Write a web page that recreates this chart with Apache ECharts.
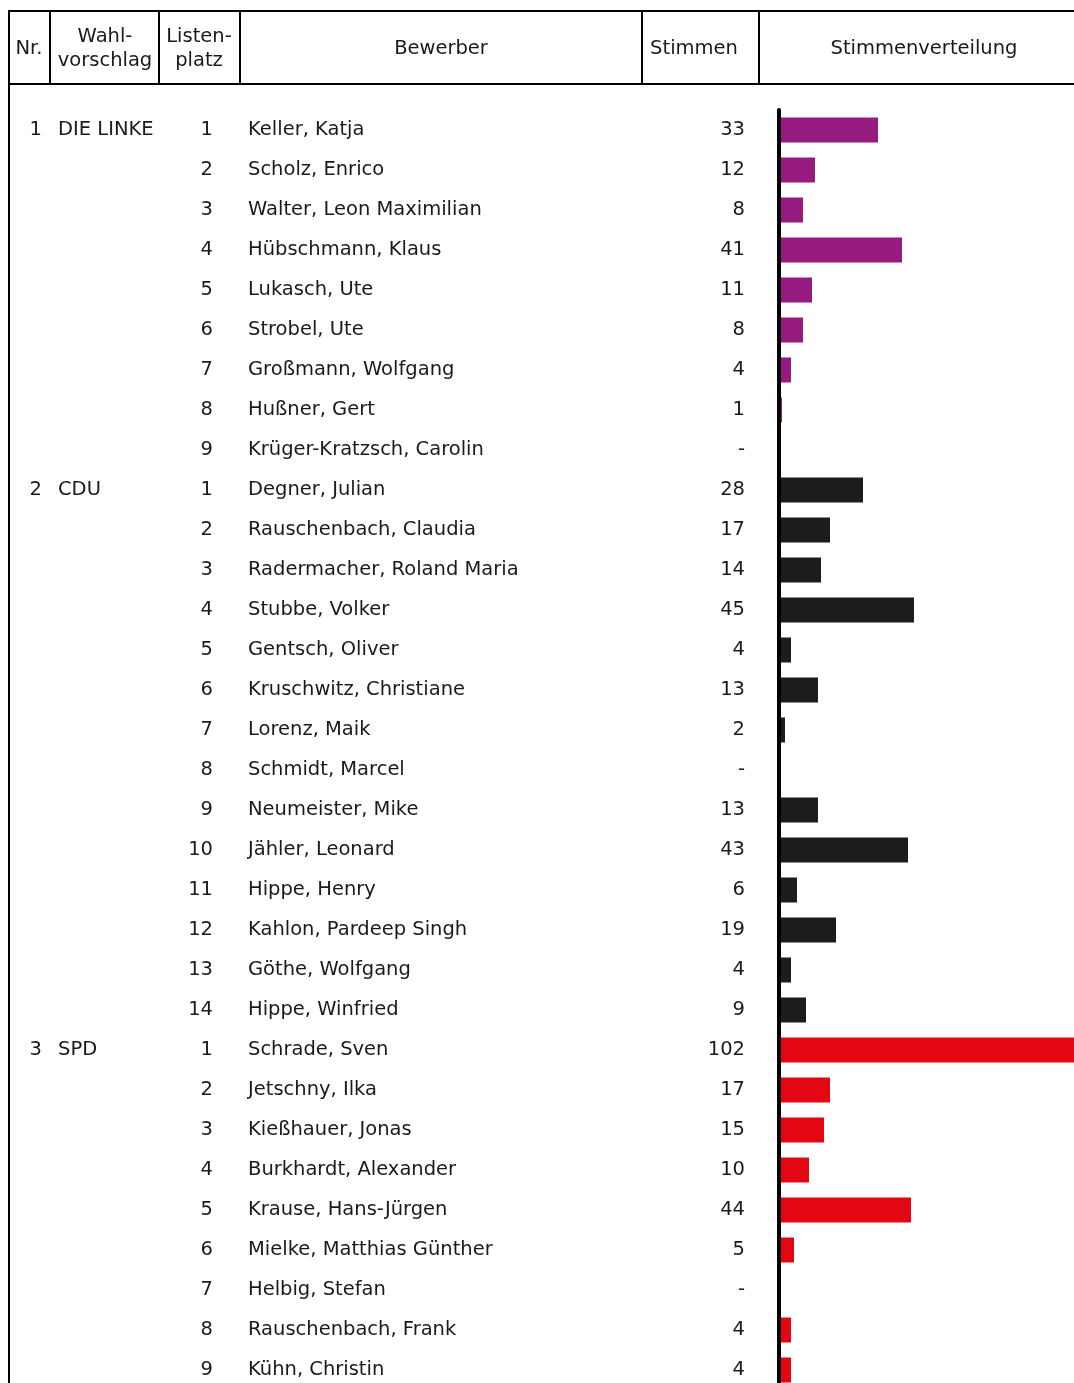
<!DOCTYPE html>
<html>
<head>
<meta charset="utf-8">
<script src="https://cdn.jsdelivr.net/npm/echarts@6/dist/echarts.min.js"></script>
<style>
html,body{margin:0;padding:0;background:#fff;overflow:hidden;}
#chart{width:1074px;height:1390px;}
</style>
</head>
<body>
<div id="chart"></div>
<script>
// ---- data ----
const partyNr = ['1', '2', '3'];
const partyLabels = ['DIE LINKE', 'CDU', 'SPD'];
const partyColors = ['#951B81', '#1C1C1C', '#E30613'];

const linkeNames = ['Keller, Katja', 'Scholz, Enrico', 'Walter, Leon Maximilian', 'Hübschmann, Klaus', 'Lukasch, Ute', 'Strobel, Ute', 'Großmann, Wolfgang', 'Hußner, Gert', 'Krüger-Kratzsch, Carolin'];
const linkeVotes = [33, 12, 8, 41, 11, 8, 4, 1, null];

const cduNames = ['Degner, Julian', 'Rauschenbach, Claudia', 'Radermacher, Roland Maria', 'Stubbe, Volker', 'Gentsch, Oliver', 'Kruschwitz, Christiane', 'Lorenz, Maik', 'Schmidt, Marcel', 'Neumeister, Mike', 'Jähler, Leonard', 'Hippe, Henry', 'Kahlon, Pardeep Singh', 'Göthe, Wolfgang', 'Hippe, Winfried'];
const cduVotes = [28, 17, 14, 45, 4, 13, 2, null, 13, 43, 6, 19, 4, 9];

const spdNames = ['Schrade, Sven', 'Jetschny, Ilka', 'Kießhauer, Jonas', 'Burkhardt, Alexander', 'Krause, Hans-Jürgen', 'Mielke, Matthias Günther', 'Helbig, Stefan', 'Rauschenbach, Frank', 'Kühn, Christin'];
const spdVotes = [102, 17, 15, 10, 44, 5, null, 4, 4];

const headerLabels = ['Nr.', 'Wahl-\nvorschlag', 'Listen-\nplatz', 'Bewerber', 'Stimmen', 'Stimmenverteilung'];

// ---- build rows ----
const groupNames = [linkeNames, cduNames, spdNames];
const groupVotes = [linkeVotes, cduVotes, spdVotes];
const rowIds = [], colNr = [], colParty = [], colPlatz = [], colName = [], colVotes = [], barData = [];
groupNames.forEach((names, p) => {
  names.forEach((n, i) => {
    const id = 'r' + rowIds.length;
    rowIds.push(id);
    colNr.push(i === 0 ? partyNr[p] : '');
    colParty.push(i === 0 ? partyLabels[p] : '');
    colPlatz.push(String(i + 1));
    colName.push(n);
    const v = groupVotes[p][i];
    colVotes.push(v == null ? '-' : String(v));
    barData.push({ value: v == null ? 0 : v, itemStyle: { color: partyColors[p] } });
  });
});

const FONT = 'DejaVu Sans';
const FS = 19.5;
const TXT = '#1a1a1a';
const GRID_LEFT = 779;

function textAxis(data, margin, align) {
  return {
    type: 'category', data: data, inverse: true, position: 'left', gridIndex: 0,
    axisLine: { show: false }, axisTick: { show: false }, splitLine: { show: false },
    axisLabel: { show: true, interval: 0, margin: margin, align: align, fontFamily: FONT, fontSize: FS, color: TXT, hideOverlap: false }
  };
}

const chart = echarts.init(document.getElementById('chart'), null, { renderer: 'canvas' });

const lines = [];
const L = (x1, y1, x2, y2) => lines.push({ type: 'line', shape: { x1, y1, x2, y2 }, style: { stroke: '#000', lineWidth: 2 }, silent: true });
L(8, 11, 1074, 11);
L(8, 84, 1074, 84);
L(9, 10, 9, 1390);
[50, 159, 240, 642, 759].forEach(x => L(x, 11, x, 84));

const headerX = [29, 105, 199, 441, 694, 924];
const headerTexts = headerLabels.map((t, i) => ({
  type: 'text', x: headerX[i], y: 49, silent: true,
  style: { text: t, fontFamily: FONT, fontSize: FS, fill: TXT, align: 'center', verticalAlign: 'middle', lineHeight: 24 }
}));

chart.setOption({
  animation: false,
  backgroundColor: '#fff',
  grid: { left: GRID_LEFT, top: 110, width: 1074 - GRID_LEFT, height: 1280, containLabel: false },
  xAxis: { type: 'value', min: 0, max: (1074 - GRID_LEFT) / 3, show: false, splitLine: { show: false } },
  yAxis: [
    {
      type: 'category', data: rowIds, inverse: true, position: 'left', z: 5,
      axisLine: { show: true, lineStyle: { color: '#000', width: 4 } },
      axisTick: { show: false }, splitLine: { show: false },
      axisLabel: { show: true, interval: 0, margin: 34, align: 'right', fontFamily: FONT, fontSize: FS, color: TXT,
        formatter: (v, idx) => colVotes[idx] }
    },
    textAxis(colName, GRID_LEFT - 248, 'left'),
    textAxis(colPlatz, GRID_LEFT - 213, 'right'),
    textAxis(colParty, GRID_LEFT - 58, 'left'),
    textAxis(colNr, GRID_LEFT - 42, 'right')
  ],
  series: [{
    type: 'bar', yAxisIndex: 0, data: barData, barWidth: 25, clip: true, silent: true
  }],
  graphic: lines.concat(headerTexts)
});
</script>
</body>
</html>
